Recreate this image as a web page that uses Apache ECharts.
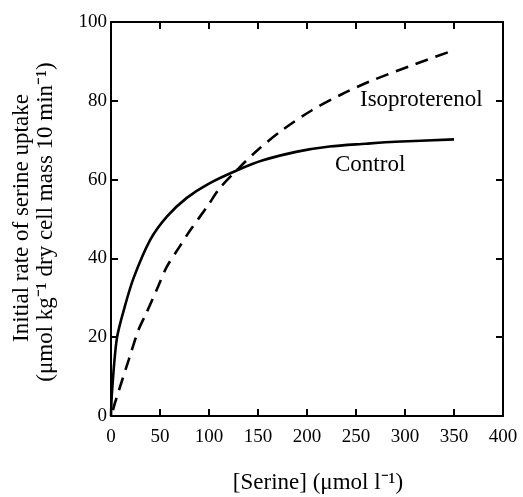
<!DOCTYPE html>
<html>
<head>
<meta charset="utf-8">
<script src="https://cdn.jsdelivr.net/npm/echarts@6/dist/echarts.min.js"></script>
<style>
  html, body { margin: 0; padding: 0; background: #fff; }
  #chart { width: 523px; height: 497px; }
</style>
</head>
<body>
<div id="chart"></div>
<script>
// values: [serine] (µmol l-1) vs uptake rate
const controlX = [0, 1, 6, 14, 23, 40, 57, 77, 100, 130, 155, 190, 223, 260, 290, 350];
const controlY = [0, 6, 19.7, 27.7, 35, 44.7, 50.6, 55.3, 59, 62.5, 64.9, 67.1, 68.4, 69.1, 69.6, 70.2];
const isoX = [2, 4, 18, 28, 36, 48, 57, 70, 81, 98, 111, 130, 150, 175, 205, 235, 264, 305, 346];
const isoY = [1.5, 3.3, 14.2, 21.8, 26.1, 32.8, 37.9, 43, 47.2, 53.1, 57.8, 62.8, 67.6, 72.6, 77.6, 81.6, 84.9, 88.8, 92.5];
const xTicks = [0, 50, 100, 150, 200, 250, 300, 350, 400];
const yTicks = [0, 20, 40, 60, 80, 100];

const font = 'Liberation Serif';
const chart = echarts.init(document.getElementById('chart'));

const pairs = (xs, ys) => xs.map((x, i) => [x, ys[i]]);

const axisLine = { show: true, onZero: false, lineStyle: { color: '#000', width: 2 } };
const tickIn = { show: true, inside: true, length: 7, lineStyle: { color: '#000', width: 2 } };

chart.setOption({
  animation: false,
  grid: { left: 111, right: 20, top: 22, bottom: 81 },
  xAxis: [
    {
      type: 'value', min: xTicks[0], max: xTicks[xTicks.length - 1], interval: 50, position: 'bottom',
      axisLine, axisTick: tickIn, splitLine: { show: false },
      axisLabel: { color: '#000', fontFamily: font, fontSize: 19, margin: 12 }
    },
    {
      type: 'value', min: xTicks[0], max: xTicks[xTicks.length - 1], interval: 50, position: 'top',
      axisLine, axisTick: tickIn, splitLine: { show: false }, axisLabel: { show: false }
    }
  ],
  yAxis: [
    {
      type: 'value', min: yTicks[0], max: yTicks[yTicks.length - 1], interval: 20, position: 'left',
      axisLine, axisTick: tickIn, splitLine: { show: false },
      axisLabel: { color: '#000', fontFamily: font, fontSize: 19, margin: 4 }
    },
    {
      type: 'value', min: yTicks[0], max: yTicks[yTicks.length - 1], interval: 20, position: 'right',
      axisLine, axisTick: tickIn, splitLine: { show: false }, axisLabel: { show: false }
    }
  ],
  series: [
    {
      name: 'Control', type: 'line', smooth: 0.3, symbol: 'none',
      data: pairs(controlX, controlY),
      lineStyle: { color: '#000', width: 2.6, type: 'solid' }
    },
    {
      name: 'Isoproterenol', type: 'line', smooth: 0.3, symbol: 'none',
      data: pairs(isoX, isoY),
      lineStyle: { color: '#000', width: 2.6, type: [13, 8] }
    }
  ],
  graphic: [
    { type: 'text', x: 360, y: 100, style: { text: 'Isoproterenol', font: '23px "Liberation Serif"', fill: '#000', verticalAlign: 'middle' } },
    { type: 'text', x: 335, y: 165, style: { text: 'Control', font: '23px "Liberation Serif"', fill: '#000', verticalAlign: 'middle' } },
    { type: 'text', x: 318, y: 483, style: { text: '[Serine] (\u03bcmol l\u207b\u00b9)', font: '23px "Liberation Serif"', fill: '#000', align: 'center', verticalAlign: 'middle' } },
    {
      type: 'text', x: 22, y: 218, rotation: Math.PI / 2,
      style: { text: 'Initial rate of serine uptake', font: '23px "Liberation Serif"', fill: '#000', align: 'center', verticalAlign: 'middle' }
    },
    {
      type: 'text', x: 46, y: 222, rotation: Math.PI / 2,
      style: { text: '(\u03bcmol kg\u207b\u00b9 dry cell mass 10 min\u207b\u00b9)', font: '23px "Liberation Serif"', fill: '#000', align: 'center', verticalAlign: 'middle' }
    }
  ]
});
</script>
</body>
</html>
